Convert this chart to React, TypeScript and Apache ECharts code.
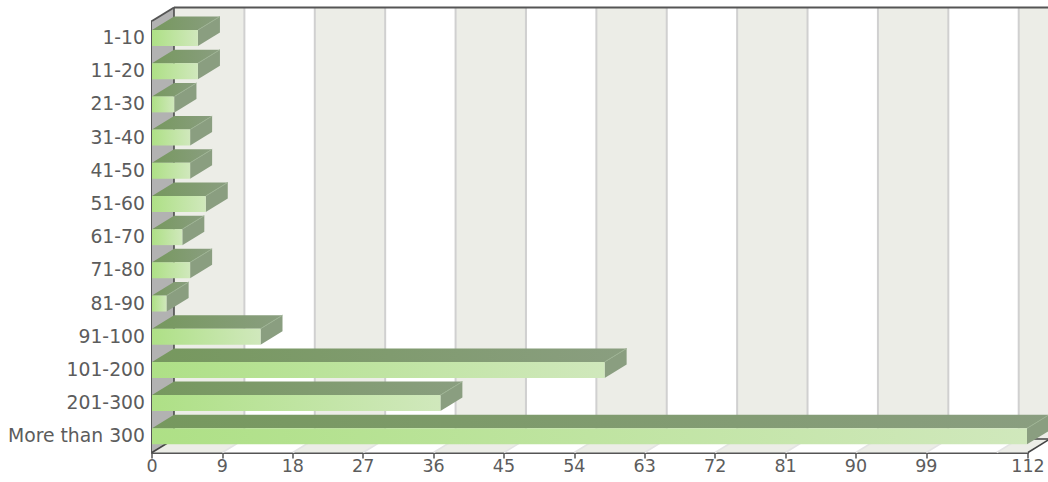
import React, { useEffect, useRef } from "react";
import * as echarts from "echarts";

const categories = ["1-10","11-20","21-30","31-40","41-50","51-60","61-70","71-80","81-90","91-100","101-200","201-300","More than 300"];
const values = [6,6,3,5,5,7,4,5,2,14,58,37,112];
const labelTicks = [0,9,18,27,36,45,54,63,72,81,90,99,112];
const bandEdges = [0,9,18,27,36,45,54,63,72,81,90,99,108,112];

const DX = 22;
const DY = -13.5;
const BAR_H = 16;
const TEXT = "#5c5c5c";

function poly(points: number[][], style: any) {
  return { type: "polygon", shape: { points }, style, silent: true };
}
function seg(x1: number, y1: number, x2: number, y2: number, stroke: string, lineWidth: number) {
  return { type: "line", shape: { x1, y1, x2, y2 }, style: { stroke, lineWidth, fill: "none" }, silent: true };
}

export default function App() {
  const ref = useRef<HTMLDivElement>(null);
  useEffect(() => {
    document.body.style.margin = "0";
    document.body.style.overflow = "hidden";
    const chart = echarts.init(ref.current!, null, { renderer: "svg" });
    const bands = bandEdges.slice(0, -1).map((v, i) => [v, bandEdges[i + 1], i]);
    const lastBand = bands.length - 1;
    chart.setOption({
      animation: false,
      backgroundColor: "#ffffff",
      grid: { left: 152, right: 20, top: 21, bottom: 29.5 },
      xAxis: {
        type: "value", min: 0, max: 112,
        splitLine: { show: false },
        axisLine: { show: true, onZero: false, lineStyle: { color: "#555555", width: 2 } },
        axisTick: { show: true, length: 6, customValues: labelTicks, lineStyle: { color: "#555555", width: 1.5 } },
        axisLabel: {
          customValues: labelTicks, color: TEXT, fontSize: 17.5, margin: 4,
          fontFamily: "DejaVu Sans", hideOverlap: false, showMinLabel: true, showMaxLabel: true,
        },
      },
      yAxis: {
        type: "category", inverse: true, data: categories,
        axisLine: { show: true, lineStyle: { color: "#555555", width: 2 } },
        axisTick: { show: false },
        axisLabel: { color: TEXT, fontSize: 18.8, margin: 7, padding: [0, 0, 2, 0], fontFamily: "DejaVu Sans", interval: 0 },
      },
      series: [
        {
          type: "custom", coordinateSystem: "cartesian2d", clip: false, z: 1,
          encode: { x: [0, 1], y: 2 },
          data: bands.map((b) => [b[0], b[1], 0, b[2]]),
          renderItem: (params: any, api: any) => {
            const cs = params.coordSys;
            const top = cs.y, bottom = cs.y + cs.height;
            const x0 = api.coord([api.value(0), categories[0]])[0];
            const x1 = api.coord([api.value(1), categories[0]])[0];
            const i = api.value(3);
            const fill = i % 2 === 0 ? "#ecede7" : "#ffffff";
            const children: any[] = [
              poly([[x0 + DX, top + DY], [x1 + DX, top + DY], [x1 + DX, bottom + DY], [x0 + DX, bottom + DY]], { fill }),
              poly([[x0, bottom], [x1, bottom], [x1 + DX, bottom + DY], [x0 + DX, bottom + DY]], { fill }),
            ];
            if (i > 0) {
              children.push(seg(x0 + DX, top + DY, x0 + DX, bottom + DY, "#d0d0d0", 2));
              children.push(seg(x0, bottom, x0 + DX, bottom + DY, "#e4e4e4", 1.5));
            }
            if (i === lastBand) {
              children.push(poly([[cs.x, top], [cs.x + DX, top + DY], [cs.x + DX, bottom + DY], [cs.x, bottom]], { fill: "#b2b2b2" }));
              children.push(seg(cs.x + DX, top + DY, cs.x + DX, bottom + DY, "#444444", 1.5));
              children.push(seg(cs.x, top, cs.x + DX, top + DY, "#555555", 2));
              children.push(seg(cs.x, bottom, cs.x + DX, bottom + DY, "#444444", 1.5));
              children.push(seg(cs.x + DX, top + DY, cs.x + cs.width + DX, top + DY, "#555555", 2));
              children.push(seg(cs.x + DX, bottom + DY, cs.x + cs.width + DX, bottom + DY, "#444444", 1.5));
              children.push(seg(cs.x + cs.width, bottom, cs.x + cs.width + DX, bottom + DY, "#444444", 1.5));
            }
            return { type: "group", children };
          },
        },
        {
          type: "custom", coordinateSystem: "cartesian2d", clip: false, z: 2,
          encode: { x: 0, y: 1 },
          data: values.map((v, i) => [v, categories[i]]),
          renderItem: (_params: any, api: any) => {
            const end = api.coord([api.value(0), api.value(1)]);
            const start = api.coord([0, api.value(1)]);
            const cy = end[1] + 0.4;
            const t = cy - BAR_H / 2, b = cy + BAR_H / 2;
            const x0 = start[0], x1 = end[0] - 1;
            const grad = (a: string, c: string) =>
              new echarts.graphic.LinearGradient(0, 0, 1, 0, [{ offset: 0, color: a }, { offset: 1, color: c }]);
            return {
              type: "group",
              children: [
                poly([[x0, t], [x1, t], [x1 + DX, t + DY], [x0 + DX, t + DY]], { fill: grad("#76985e", "#8a9e80") }),
                poly([[x1, t], [x1 + DX, t + DY], [x1 + DX, b + DY], [x1, b]], { fill: "#8a9e80" }),
                poly([[x0, t], [x1, t], [x1, b], [x0, b]], { fill: grad("#aee086", "#d0e8bc") }),
                seg(x1, t, x1 + DX, t + DY, "#9db393", 1),
              ],
            };
          },
        },
      ],
    });
    return () => chart.dispose();
  }, []);
  return <div ref={ref} style={{ width: 1048, height: 482 }} />;
}
